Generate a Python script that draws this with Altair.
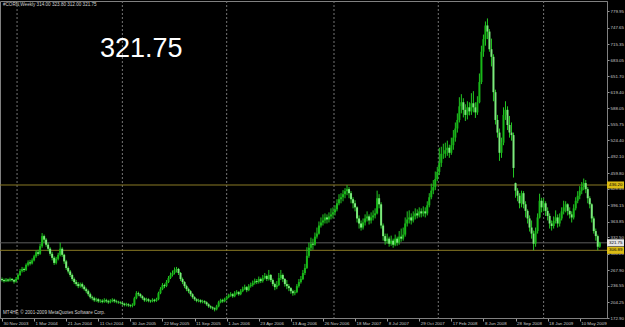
import json
import altair as alt
import pandas as pd

# ---------------- data ----------------
opens = [
    250, 248, 246, 249, 247, 250, 248, 245, 250, 258,
    266, 270, 268, 278, 283, 281, 287, 295, 303, 300,
    315, 335, 328, 318, 310, 300, 292, 282, 290, 298,
    310, 298, 285, 272, 265, 258, 250, 244, 240, 236,
    240, 235, 230, 226, 220, 214, 212, 208, 210, 206,
    207, 205, 208, 206, 204, 207, 209, 206, 205, 204,
    203, 201, 199, 200, 198, 197, 199, 212, 222, 220,
    216, 212, 208, 210, 207, 206, 209, 207, 210, 222,
    230, 238, 236, 244, 252, 258, 262, 268, 270, 262,
    250, 244, 236, 230, 226, 220, 214, 210, 207, 208,
    205, 206, 204, 200, 196, 194, 192, 190, 196, 204,
    208, 206, 210, 214, 218, 220, 216, 222, 224, 220,
    226, 230, 234, 228, 236, 238, 242, 246, 244, 250,
    246, 252, 256, 250, 258, 248, 240, 234, 238, 252,
    258, 250, 240, 236, 232, 226, 222, 224, 236, 244,
    250, 262, 272, 296, 312, 320, 318, 334, 340, 356,
    362, 366, 372, 368, 374, 378, 382, 388, 400, 408,
    412, 418, 424, 428, 420, 408, 400, 392, 370, 360,
    352, 362, 370, 374, 366, 372, 376, 380, 410, 398,
    356, 335, 325, 330, 320, 326, 318, 330, 322, 334,
    330, 338, 360, 368, 372, 366, 374, 380, 376, 384,
    380, 384, 380, 396, 412, 425, 432, 448, 462, 480,
    498, 498, 505, 510, 500, 515, 530, 548, 565, 592,
    600, 585, 575, 590, 582, 598, 590, 580, 600, 640,
    700, 725, 752, 740, 705, 690, 620, 565, 540, 500,
    520, 575, 585, 555, 540, 535, 440, 425, 415, 400,
    420, 398, 385, 370, 352, 340, 320, 345, 372, 405,
    392, 400, 385, 375, 360, 355, 365, 372, 360, 370,
    384, 392, 398, 385, 378, 372, 390, 405, 415, 425,
    432, 440, 428, 410, 398, 370, 345, 335, 314,
]
highs = [
    253, 251, 252, 251, 253, 252, 250, 254, 261, 270,
    274, 273, 281, 287, 288, 291, 298, 307, 308, 320,
    341, 338, 331, 322, 313, 304, 295, 294, 302, 322,
    313, 300, 288, 275, 268, 261, 253, 248, 244, 243,
    243, 238, 233, 229, 223, 217, 215, 213, 212, 210,
    210, 212, 211, 209, 210, 212, 211, 209, 207, 206,
    205, 203, 203, 202, 200, 202, 215, 226, 225, 222,
    218, 214, 213, 212, 209, 212, 211, 213, 225, 234,
    242, 241, 248, 256, 263, 267, 273, 274, 272, 264,
    253, 246, 239, 233, 228, 222, 216, 212, 211, 210,
    209, 208, 206, 202, 198, 196, 194, 199, 207, 211,
    211, 213, 217, 221, 224, 222, 226, 228, 226, 230,
    235, 239, 236, 240, 243, 247, 251, 250, 255, 253,
    258, 262, 259, 268, 260, 251, 243, 246, 262, 268,
    261, 252, 248, 240, 234, 229, 228, 240, 250, 256,
    268, 280, 313, 322, 332, 330, 342, 352, 364, 372,
    378, 380, 378, 382, 390, 392, 396, 408, 418, 420,
    426, 430, 436, 432, 424, 412, 406, 394, 376, 366,
    370, 378, 384, 378, 382, 386, 390, 425, 418, 402,
    360, 340, 340, 334, 336, 330, 338, 334, 345, 350,
    352, 372, 384, 386, 380, 384, 390, 388, 392, 390,
    394, 392, 404, 420, 439, 446, 463, 472, 510, 512,
    518, 520, 524, 516, 530, 545, 560, 578, 610, 616,
    608, 596, 602, 600, 618, 622, 600, 612, 657, 712,
    734, 760, 766, 745, 726, 695, 625, 575, 548, 530,
    590, 602, 592, 573, 560, 540, 441, 430, 420, 425,
    424, 404, 388, 376, 366, 346, 352, 380, 419, 411,
    410, 404, 392, 380, 366, 374, 386, 378, 380, 392,
    405, 404, 400, 392, 384, 398, 412, 424, 434, 442,
    449, 446, 432, 414, 400, 374, 350, 338, 323.80,
]
lows = [
    245, 243, 244, 244, 245, 245, 241, 243, 248, 256,
    263, 264, 266, 275, 277, 279, 285, 292, 296, 298,
    312, 322, 314, 305, 296, 287, 278, 279, 287, 295,
    294, 280, 268, 261, 254, 246, 240, 236, 232, 233,
    231, 227, 222, 216, 211, 208, 205, 205, 203, 203,
    202, 203, 203, 201, 202, 204, 203, 202, 201, 200,
    198, 196, 196, 195, 194, 194, 197, 210, 216, 213,
    209, 205, 205, 204, 203, 204, 204, 205, 208, 220,
    228, 232, 234, 242, 250, 255, 259, 263, 258, 246,
    240, 232, 226, 222, 216, 211, 207, 204, 204, 202,
    202, 201, 197, 193, 191, 189, 186, 188, 194, 202,
    203, 204, 208, 212, 215, 213, 214, 219, 217, 218,
    224, 228, 224, 226, 233, 235, 239, 240, 241, 242,
    243, 249, 246, 247, 244, 236, 228, 230, 236, 248,
    244, 235, 230, 226, 221, 217, 218, 222, 233, 241,
    248, 258, 270, 292, 306, 308, 316, 330, 338, 352,
    356, 360, 360, 362, 368, 370, 376, 384, 396, 400,
    404, 410, 416, 410, 400, 390, 384, 362, 350, 346,
    348, 356, 364, 358, 360, 366, 370, 378, 390, 350,
    326, 318, 320, 314, 316, 312, 315, 316, 318, 324,
    326, 334, 354, 360, 358, 362, 368, 370, 372, 372,
    374, 372, 376, 392, 408, 418, 426, 444, 456, 472,
    488, 490, 494, 490, 496, 506, 522, 540, 560, 578,
    570, 563, 566, 574, 575, 580, 569, 575, 598, 636,
    690, 712, 725, 700, 671, 602, 556, 530, 484, 490,
    515, 565, 545, 530, 524, 451, 411, 404, 390, 392,
    390, 372, 360, 344, 330, 307, 314, 340, 370, 382,
    384, 375, 366, 350, 346, 350, 360, 352, 354, 366,
    378, 382, 376, 370, 362, 368, 386, 400, 408, 418,
    426, 420, 400, 390, 362, 340, 326, 306.89, 312,
]
closes = [
    248, 246, 249, 247, 250, 248, 245, 250, 258, 266,
    270, 268, 278, 283, 281, 287, 295, 303, 300, 315,
    335, 328, 318, 310, 300, 292, 282, 290, 298, 310,
    298, 285, 272, 265, 258, 250, 244, 240, 236, 240,
    235, 230, 226, 220, 214, 212, 208, 210, 206, 207,
    205, 208, 206, 204, 207, 209, 206, 205, 204, 203,
    201, 199, 200, 198, 197, 199, 212, 222, 220, 216,
    212, 208, 210, 207, 206, 209, 207, 210, 222, 230,
    238, 236, 244, 252, 258, 262, 268, 270, 262, 250,
    244, 236, 230, 226, 220, 214, 210, 207, 208, 205,
    206, 204, 200, 196, 194, 192, 190, 196, 204, 208,
    206, 210, 214, 218, 220, 216, 222, 224, 220, 226,
    230, 234, 228, 236, 238, 242, 246, 244, 250, 246,
    252, 256, 250, 258, 248, 240, 234, 238, 252, 258,
    250, 240, 236, 232, 226, 222, 224, 236, 244, 250,
    262, 272, 296, 312, 320, 318, 334, 340, 356, 362,
    366, 372, 368, 374, 378, 382, 388, 400, 408, 412,
    418, 424, 428, 420, 408, 400, 392, 370, 360, 352,
    362, 370, 374, 366, 372, 376, 380, 410, 398, 356,
    335, 325, 330, 320, 326, 318, 330, 322, 334, 330,
    338, 360, 368, 372, 366, 374, 380, 376, 384, 380,
    384, 380, 396, 412, 425, 432, 448, 462, 480, 498,
    498, 505, 510, 500, 515, 530, 548, 565, 592, 600,
    585, 575, 590, 582, 598, 590, 580, 600, 640, 700,
    725, 752, 740, 705, 690, 620, 565, 540, 500, 520,
    575, 585, 555, 540, 535, 470, 425, 415, 400, 420,
    398, 385, 370, 352, 340, 320, 345, 372, 405, 392,
    400, 385, 375, 360, 355, 365, 372, 360, 370, 384,
    392, 398, 385, 378, 372, 390, 405, 415, 425, 432,
    440, 428, 410, 398, 370, 345, 335, 314, 321.75,
]

date_labels = [
    "30 Nov 2003", "1 Mar 2004", "21 Jun 2004", "11 Oct 2004", "30 Jan 2005",
    "22 May 2005", "11 Sep 2005", "1 Jan 2006", "23 Apr 2006", "13 Aug 2006",
    "26 Nov 2006", "18 Mar 2007", "8 Jul 2007", "29 Oct 2007", "17 Feb 2008",
    "8 Jun 2008", "28 Sep 2008", "18 Jan 2009", "10 May 2009",
]
date_label_bars = [0, 16, 32, 48, 64, 80, 96, 112, 128, 144,
                   160, 176, 192, 208, 224, 240, 256, 272, 288]
year_start_bars = [7.5, 60, 112, 165.5, 217.5, 270]

price_ticks = [172.90, 204.25, 236.55, 267.90, 300.20, 332.50, 363.85, 396.15,
               428.45, 459.80, 492.10, 524.40, 555.75, 588.05, 619.40, 651.70,
               683.05, 715.35, 747.65, 779.95]

level_prices = [436.20, 306.89]
current_price = [321.75]
header_text = "#CORN,Weekly  314.00 323.80 312.00 321.75"
big_text = "321.75"
copyright_text = "MT4HF, \u00a9 2001-2009 MetaQuotes Software Corp."

# ---------------- tables ----------------
bars = pd.DataFrame({
    "i": list(range(len(closes))),
    "o": opens, "h": highs, "l": lows, "c": closes,
})
bars["dir"] = ["up" if c >= o else "down" for o, c in zip(opens, closes)]

FONT = "Liberation Sans"
xs = alt.Scale(domain=[-1, 301.6], nice=False, zero=False)
ys = alt.Scale(domain=[172.9, 800.5], nice=False, zero=False)

label_expr = json.dumps(date_labels) + "[round(datum.value / 16)]"

x_axis = alt.Axis(values=date_label_bars, labelExpr=label_expr, orient="bottom",
                  tickSize=3, labelPadding=0, labelAlign="left", labelBaseline="top",
                  labelOffset=1, labelFontSize=4.4, labelFont=FONT,
                  labelColor="#c8c8c8", tickColor="#9a9a9a", domainColor="#808080",
                  grid=False, title=None, labelOverlap=False, labelBound=False,
                  labelFlush=False)
y_axis = alt.Axis(values=price_ticks, format=".2f", orient="right", tickSize=2,
                  labelPadding=1, labelFontSize=4.4, labelFont=FONT,
                  labelColor="#c8c8c8", tickColor="#9a9a9a", domainColor="#808080",
                  grid=False, title=None, labelOverlap=False, labelBound=False,
                  labelFlush=False, labelBaseline="middle")

grid = alt.Chart(pd.DataFrame({"g": year_start_bars})).mark_rule(
    color="#747474", strokeDash=[2, 2], strokeWidth=1
).encode(x=alt.X("g:Q", scale=xs, axis=x_axis))

levels = alt.Chart(pd.DataFrame({"p": level_prices})).mark_rule(
    color="#8a7a24", strokeWidth=1
).encode(y=alt.Y("p:Q", scale=ys, axis=y_axis))

cur = alt.Chart(pd.DataFrame({"p": current_price})).mark_rule(
    color="#5c5c5c", strokeWidth=1
).encode(y=alt.Y("p:Q", scale=ys, axis=y_axis))

color = alt.Color("dir:N", scale=alt.Scale(domain=["up", "down"],
                                           range=["#18b818", "#7cea7c"]), legend=None)

wicks = alt.Chart(bars).mark_rule(strokeWidth=1, color="#22c822").encode(
    x=alt.X("i:Q", scale=xs, axis=x_axis),
    y=alt.Y("l:Q", scale=ys, axis=y_axis),
    y2="h:Q",
)
bodies = alt.Chart(bars).mark_rule(strokeWidth=2, strokeCap="butt").encode(
    x=alt.X("i:Q", scale=xs, axis=x_axis),
    y=alt.Y("o:Q", scale=ys, axis=y_axis),
    y2="c:Q",
    color=color,
)

box_df = pd.DataFrame({
    "p": level_prices + current_price,
    "lbl": ["436.20", "306.89", "321.75"],
    "fill": ["#dcbc14", "#dcbc14", "#e4e4e4"],
})
boxes = alt.Chart(box_df).transform_calculate(
    lo="datum.p - 7", hi="datum.p + 7"
).mark_rect().encode(
    x=alt.value(607), x2=alt.value(624),
    y=alt.Y("lo:Q", scale=ys, axis=y_axis), y2="hi:Q",
    color=alt.Color("fill:N", scale=None),
)
box_text = alt.Chart(box_df).mark_text(
    align="left", baseline="middle", fontSize=4.4, font=FONT, color="#000000"
).encode(x=alt.value(609), y=alt.Y("p:Q", scale=ys, axis=y_axis), text="lbl:N")

header = alt.Chart(pd.DataFrame({"t": [header_text]})).mark_text(
    align="left", baseline="middle", fontSize=4.6, font=FONT, color="#d0d0d0"
).encode(x=alt.value(3), y=alt.value(4), text="t:N")

big = alt.Chart(pd.DataFrame({"t": [big_text]})).mark_text(
    align="left", baseline="alphabetic", fontSize=27, font=FONT, color="#ffffff"
).encode(x=alt.value(100), y=alt.value(56), text="t:N")

copy = alt.Chart(pd.DataFrame({"t": [copyright_text]})).mark_text(
    align="left", baseline="middle", fontSize=4.6, font=FONT, color="#d0d0d0"
).encode(x=alt.value(3), y=alt.value(312), text="t:N")

chart = alt.layer(
    grid, levels, cur, wicks, bodies, boxes, box_text, header, big, copy
).properties(
    width=607, height=317,
    padding={"left": 0, "top": 1, "right": 18, "bottom": 9},
    autosize=alt.AutoSizeParams(type="none"),
    background="#000000",
).configure_view(stroke="#808080", strokeWidth=1, fill="#000000")

chart.save("out.html", embed_options={"renderer": "svg", "actions": False})
